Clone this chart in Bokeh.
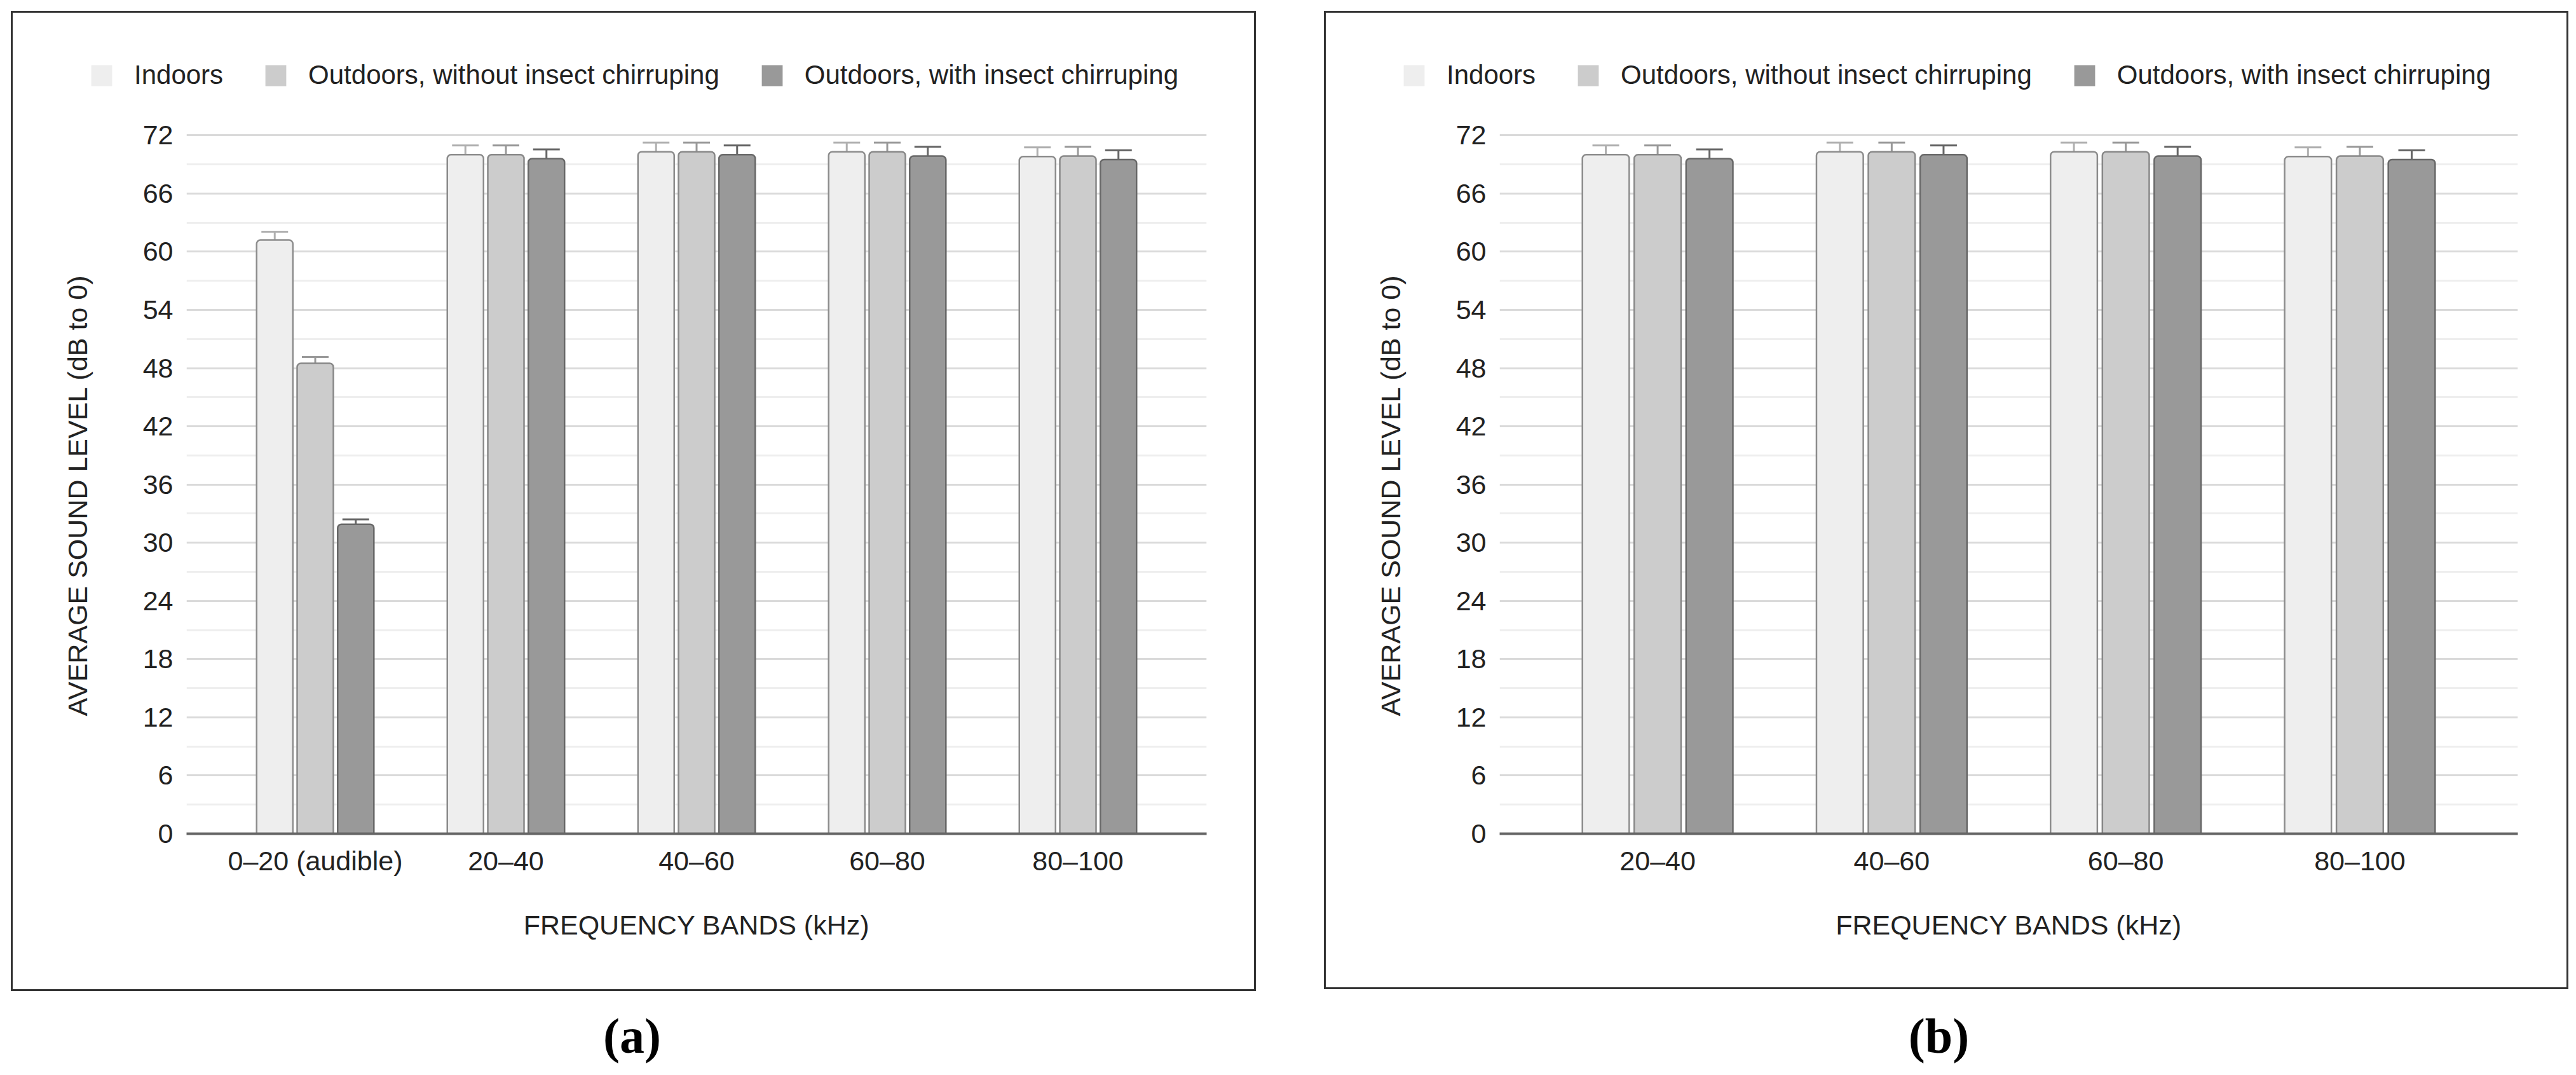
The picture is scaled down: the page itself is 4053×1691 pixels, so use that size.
from bokeh.plotting import figure
from bokeh.models import (ColumnDataSource, FactorRange, Range1d, FixedTicker, Whisker, TeeHead,
                          Legend, LegendItem, Label, Title, Spacer)
from bokeh.transform import dodge
from bokeh.layouts import row, column
from bokeh.embed import file_html
from bokeh.resources import INLINE

# ---------------- data ----------------
bands_a = ["0–20 (audible)", "20–40", "40–60", "60–80", "80–100"]
bands_b = ["20–40", "40–60", "60–80", "80–100"]
series_names = ["Indoors", "Outdoors, without insect chirruping", "Outdoors, with insect chirruping"]

indoors = [61.2, 70.0, 70.3, 70.3, 69.8]
outdoors_without = [48.5, 70.0, 70.3, 70.3, 69.85]
outdoors_with = [31.9, 69.6, 70.0, 69.85, 69.5]
err_indoors = [0.85, 0.95, 0.95, 0.95, 0.95]
err_without = [0.65, 0.95, 0.95, 0.95, 0.95]
err_with = [0.5, 0.95, 0.95, 0.95, 0.95]

y_ticks = [0, 6, 12, 18, 24, 30, 36, 42, 48, 54, 60, 66, 72]
y_minor = [3, 9, 15, 21, 27, 33, 39, 45, 51, 57, 63, 69]
x_title = "FREQUENCY BANDS (kHz)"
y_title = "AVERAGE SOUND LEVEL (dB to 0)"

# ---------------- style ----------------
FONT = "Liberation Sans"
TXT = "#222222"
FILLS = ["#eeeeee", "#cccccc", "#999999"]
LINES = ["#8c8c8c", "#888888", "#686868"]
ERRS = ["#b0b0b0", "#999999", "#666666"]
BOX_STYLE = {"outline": "3px solid #333333", "outline-offset": "-12px"}
LEG_H = 142


def bare_figure(w, h):
    f = figure(width=w, height=h, x_range=Range1d(0, w), y_range=Range1d(h, 0),
               output_backend="svg", toolbar_location=None,
               x_axis_location=None, y_axis_location=None, min_border=0,
               outline_line_color=None, background_fill_color=None, border_fill_color=None)
    f.grid.visible = False
    return f


def make_legend_fig(w, leg_x):
    lf = bare_figure(w, LEG_H)
    items = []
    for i, name in enumerate(series_names):
        r = lf.vbar(x=[0], top=[0], bottom=0, width=0, fill_color=FILLS[i], line_color=None)
        items.append(LegendItem(label=name, renderers=[r]))
    leg = Legend(items=items, orientation="horizontal", location=(leg_x, 8),
                 glyph_width=41, glyph_height=41, label_standoff=31, spacing=62,
                 padding=0, margin=0, border_line_color=None, background_fill_alpha=0,
                 label_text_font=FONT, label_text_font_size="42px", label_text_color=TXT)
    lf.add_layout(leg)
    return lf


def make_chart(bands, first, fig_w, fig_h, mb_right, mb_bottom, bar_w, step):
    vals = [indoors[first:], outdoors_without[first:], outdoors_with[first:]]
    errs = [err_indoors[first:], err_without[first:], err_with[first:]]
    keys = ["s0", "s1", "s2"]
    data = dict(band=list(bands))
    for k, v, e in zip(keys, vals, errs):
        data[k] = list(v)
        data[k + "_up"] = [a + b for a, b in zip(v, e)]
        data[k + "_lo"] = [a - b for a, b in zip(v, e)]
    src = ColumnDataSource(data)

    p = figure(width=fig_w, height=fig_h,
               x_range=FactorRange(factors=list(bands), range_padding=0.175, range_padding_units="absolute"),
               y_range=Range1d(0, 72.15),
               output_backend="svg", toolbar_location=None,
               min_border_left=285, min_border_right=mb_right,
               min_border_top=60, min_border_bottom=mb_bottom,
               background_fill_color="white", border_fill_color=None,
               outline_line_color=None)

    ticker = FixedTicker(ticks=y_ticks, minor_ticks=y_minor)
    p.yaxis.ticker = ticker
    p.ygrid.ticker = ticker
    p.ygrid.grid_line_color = "#dadada"
    p.ygrid.grid_line_width = 3
    p.ygrid.minor_grid_line_color = "#eeeeee"
    p.ygrid.minor_grid_line_width = 3
    p.xgrid.visible = False

    p.yaxis.axis_line_color = None
    p.yaxis.major_tick_line_color = None
    p.yaxis.minor_tick_line_color = None
    p.yaxis.major_tick_out = 0
    p.yaxis.minor_tick_out = 0
    p.yaxis.major_label_standoff = 21

    p.xaxis.axis_line_color = "#666666"
    p.xaxis.axis_line_width = 4
    p.xaxis.major_tick_line_color = None
    p.xaxis.major_tick_out = 0
    p.xaxis.major_label_standoff = 18
    p.xaxis.axis_label = x_title
    p.xaxis.axis_label_standoff = 50
    p.xaxis.axis_label_text_font_style = "normal"
    p.xaxis.axis_label_text_font_size = "43px"
    p.xaxis.axis_label_text_font = FONT
    p.xaxis.axis_label_text_color = TXT

    for ax in (p.xaxis, p.yaxis):
        ax.major_label_text_font = FONT
        ax.major_label_text_font_size = "43px"
        ax.major_label_text_color = TXT

    offsets = [-step, 0.0, step]
    for i, k in enumerate(keys):
        p.vbar(x=dodge("band", offsets[i], range=p.x_range), top=k, bottom=0, width=bar_w, source=src,
               fill_color=FILLS[i], line_color=LINES[i], line_width=2.5,
               border_radius=(6, 6, 0, 0))
        p.add_layout(Whisker(source=src, base=dodge("band", offsets[i], range=p.x_range),
                             upper=k + "_up", lower=k + "_lo",
                             line_color=ERRS[i], line_width=3,
                             upper_head=TeeHead(size=42, line_color=ERRS[i], line_width=3),
                             lower_head=TeeHead(size=42, line_color=ERRS[i], line_width=3)))

    p.add_layout(Title(text=y_title, align="left", offset=185, vertical_align="middle", standoff=149,
                       text_font=FONT, text_font_size="43px", text_font_style="normal",
                       text_color=TXT), "left")
    return p


def make_caption(text, w, h, cx, cy):
    c = bare_figure(w, h)
    c.add_layout(Label(x=cx, y=cy, text=text, text_align="center", text_baseline="middle",
                       text_font="Liberation Serif", text_font_size="78px",
                       text_font_style="bold", text_color="black"))
    return c


# panel (a)
leg_a = make_legend_fig(1977, 131)
chart_a = make_chart(bands_a, 0, 1977, 1560 - LEG_H, 87, 257, 0.19, 0.2125)
box_a = column(row(leg_a), chart_a, styles=BOX_STYLE)
cap_a = make_caption("(a)", 1977, 115, 986, 61)

# panel (b)
leg_b = make_legend_fig(1976, 130)
chart_b = make_chart(bands_b, 1, 1976, 1557 - LEG_H, 89, 254, 0.20, 0.2215)
box_b = column(row(leg_b), chart_b, styles=BOX_STYLE)
cap_b = make_caption("(b)", 1976, 118, 976, 64)

layout = column(Spacer(width=10, height=8),
                row(Spacer(width=8, height=10), column(box_a, cap_a),
                    Spacer(width=89, height=10), column(box_b, cap_b)))
open("out.html", "w").write(file_html(layout, INLINE))
